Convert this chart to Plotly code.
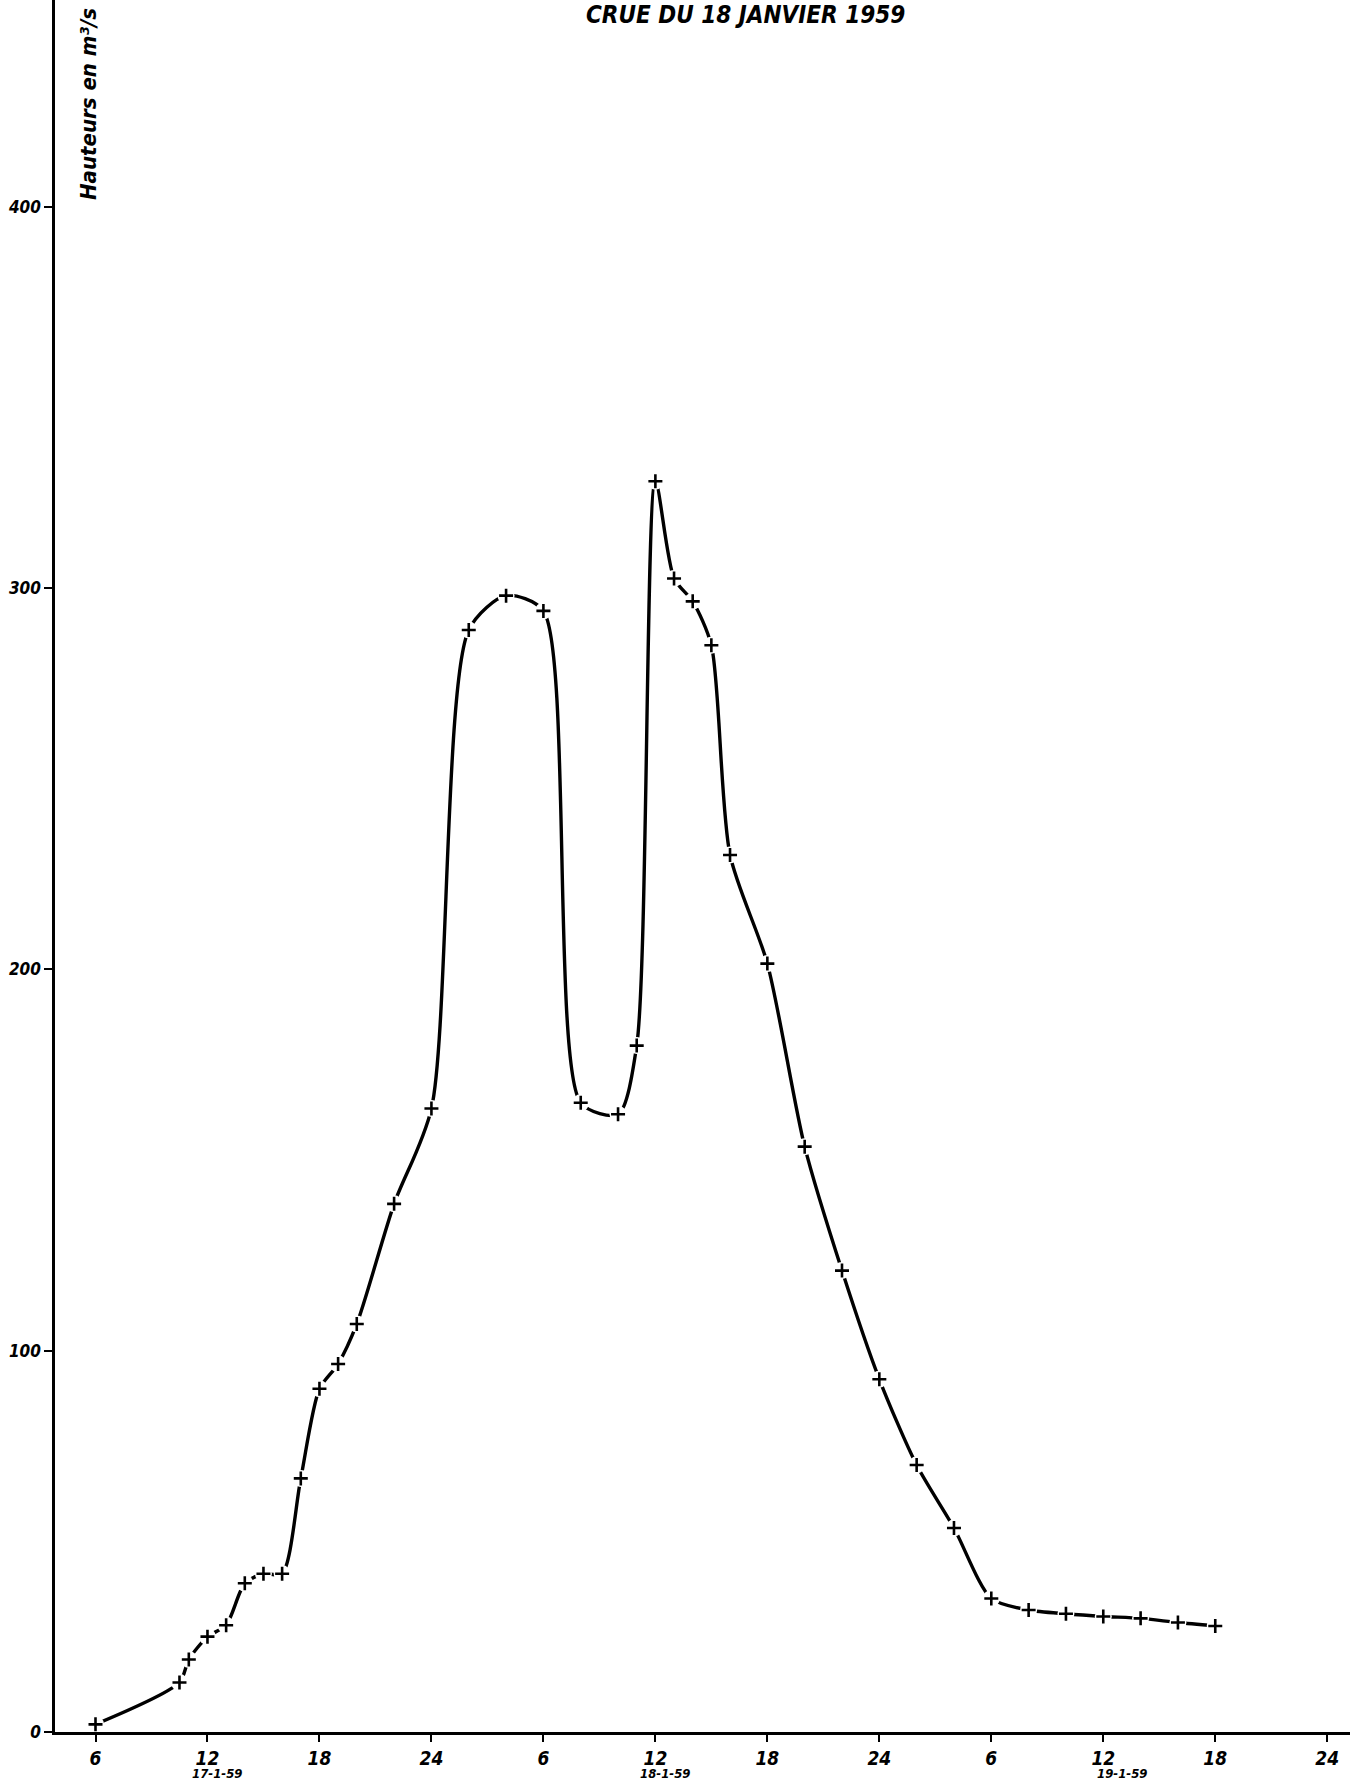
import plotly.graph_objects as go

# Hydrogramme de crue : débits relevés (m3/s) en fonction de l'heure,
# heures comptées depuis 0 h le 17-1-59
heures = [6, 10.5, 11, 12, 13, 14, 15, 16, 17, 18, 19, 20, 22, 24, 26, 28, 30,
          32, 34, 35, 36, 37, 38, 39, 40, 42, 44, 46, 48, 50, 52, 54, 56, 58,
          60, 62, 64, 66]
debits = [2, 13, 19, 25, 28, 39, 41.5, 41.5, 66.5, 90, 96.5, 107, 138.5, 163.5,
          289, 298, 294, 165, 162, 180, 328, 302.5, 296.5, 285, 230, 201.5,
          153.5, 121, 92.5, 70, 53.5, 35, 32, 31, 30.3, 29.8, 28.7, 27.8]

# Graduations de l'axe des temps (heure du jour) et dates
tick_heures = [6, 12, 18, 24, 30, 36, 42, 48, 54, 60, 66, 72]
tick_textes = ["6", "12", "18", "24", "6", "12", "18", "24", "6", "12", "18", "24"]
dates = ["17-1-59", "18-1-59", "19-1-59"]
dates_x = [12.5, 36.5, 61]

y_ticks = [0, 100, 200, 300, 400]

FONT = "Liberation Sans Narrow, DejaVu Sans Condensed, Arial Narrow, sans-serif"

fig = go.Figure()

# courbe lissée
fig.add_trace(go.Scatter(
    x=heures, y=debits, mode="lines",
    line=dict(color="black", width=3.4, shape="spline", smoothing=0.75),
    hoverinfo="skip", showlegend=False,
))
# petite interruption du trait autour de chaque point relevé
fig.add_trace(go.Scatter(
    x=heures, y=debits, mode="markers",
    marker=dict(symbol="circle", size=17, color="white", line=dict(width=0)),
    hoverinfo="skip", showlegend=False,
))
# points relevés (croix)
fig.add_trace(go.Scatter(
    x=heures, y=debits, mode="markers",
    marker=dict(symbol="cross-thin", size=10, color="black",
                line=dict(color="black", width=2.6)),
    showlegend=False,
))

fig.update_layout(
    width=1350, height=1783,
    margin=dict(l=55, r=0, t=0, b=51, autoexpand=False),
    paper_bgcolor="white", plot_bgcolor="white",
    font=dict(family=FONT, color="black", style="italic", weight="bold"),
)

fig.update_xaxes(
    range=[3.83, 73.22], tickmode="array", tickvals=tick_heures,
    ticktext=tick_textes, ticks="outside", ticklen=7, tickwidth=2,
    tickcolor="black", showline=True, linecolor="black", linewidth=3,
    showgrid=False, zeroline=False,
    tickfont=dict(size=19, family=FONT, style="italic", weight="bold"),
)
fig.update_yaxes(
    range=[0, 454.2], tickmode="array", tickvals=y_ticks,
    ticks="outside", ticklen=8, tickwidth=2, tickcolor="black",
    showline=True, linecolor="black", linewidth=2.5,
    showgrid=False, zeroline=False,
    tickfont=dict(size=17, family=FONT, style="italic", weight="bold"),
)

# titre
fig.add_annotation(
    text="CRUE DU 18 JANVIER 1959", xref="paper", yref="paper",
    x=(745 - 55) / 1295, y=(1732 - 15) / 1732, xanchor="center", yanchor="middle",
    showarrow=False, font=dict(size=24, family=FONT, style="italic", weight="bold"),
)

# titre de l'axe vertical
fig.add_annotation(
    text="Hauteurs en m³/s", xref="paper", yref="paper",
    x=(88 - 55) / 1295, y=(1732 - 104) / 1732, xanchor="center", yanchor="middle",
    textangle=-90, showarrow=False,
    font=dict(size=22, family=FONT, style="italic", weight="bold"),
)

# dates sous l'axe des temps
for d, xd in zip(dates, dates_x):
    fig.add_annotation(
        text=d, xref="x", yref="paper", x=xd, y=(1732 - 1782) / 1732,
        xanchor="center", yanchor="bottom", showarrow=False, borderpad=0,
        font=dict(size=13, family=FONT, style="italic", weight="bold"),
    )

fig.write_html("out.html")
